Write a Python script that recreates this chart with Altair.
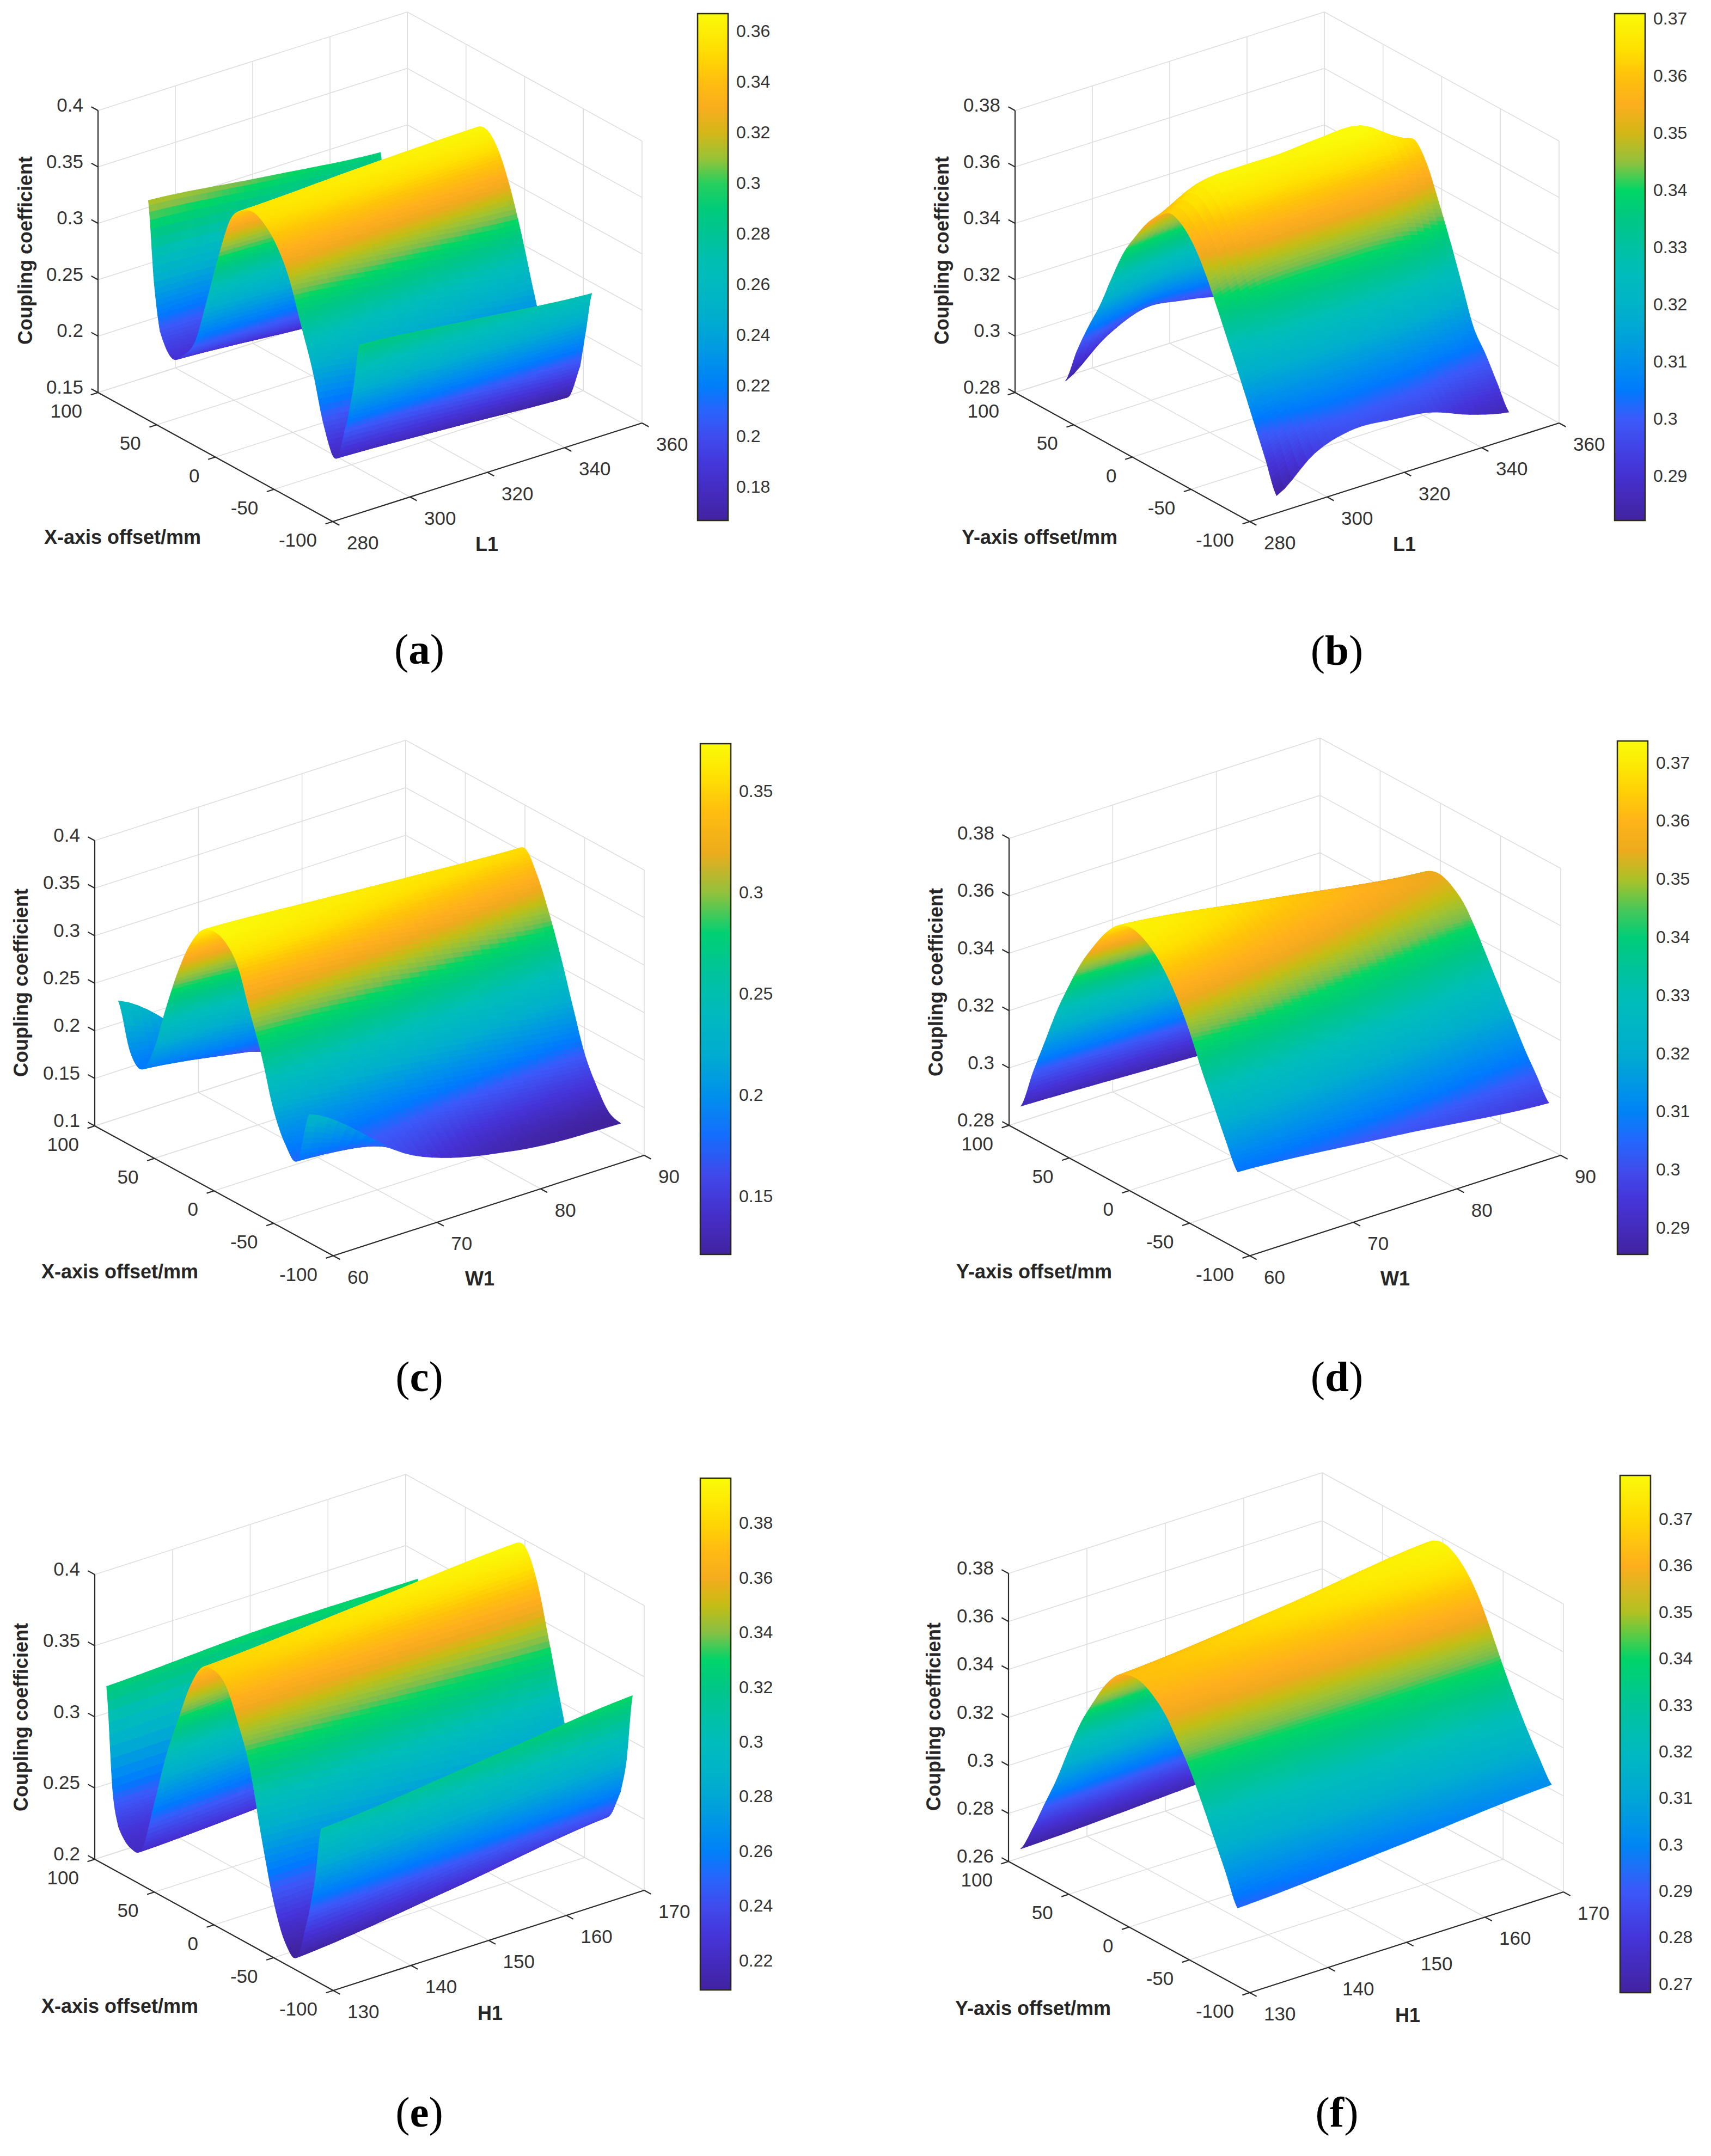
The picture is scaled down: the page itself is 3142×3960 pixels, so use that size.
import altair as alt

# ---------- values ----------
OFF_STEP10 = [90, 80, 70, 60, 50, 40, 30, 20, 10, 0, -10, -20, -30, -40, -50, -60, -70, -80, -90]
OFF_FINE = [90, 85, 80, 70, 60, 50, 40, 30, 20, 10, 0, -10, -20, -30, -40, -50, -60, -70, -80, -85, -90]
OFF_C = [80, 70, 60, 50, 40, 30, 20, 10, 0, -10, -20, -30, -40, -50, -60, -70, -80]

L_A = [290, 320, 350]
Z_A = [
    [.315, .245, .205, .187, .195, .213, .255, .300, .338, .352, .356, .350, .337, .315, .280, .245, .200, .178, .218, .250, .290],
    [.303, .240, .203, .180, .188, .207, .248, .296, .335, .356, .361, .352, .332, .302, .263, .226, .185, .173, .209, .242, .280],
    [.292, .235, .200, .172, .180, .200, .240, .290, .330, .358, .364, .352, .325, .288, .245, .205, .175, .167, .200, .235, .270],
]
L_B = [290, 300, 310, 320, 330, 340, 350]
Z_B = [
    [.282, .295, .306, .316, .328, .339, .347, .354, .359, .362, .360, .355, .347, .337, .3265, .316, .305, .294, .2826],
    [.293, .301, .310, .320, .331, .342, .352, .360, .366, .369, .367, .361, .352, .341, .330, .318, .308, .300, .2935],
    [.299, .305, .313, .323, .333, .344, .354, .362, .367, .370, .368, .362, .353, .342, .330, .319, .309, .302, .2975],
    [.2975, .304, .312, .322, .333, .344, .354, .362, .367, .370, .368, .362, .353, .342, .330, .318, .308, .301, .2965],
    [.2945, .302, .311, .321, .333, .344, .354, .362, .368, .371, .369, .362, .353, .342, .329, .317, .307, .300, .2947],
    [.289, .298, .308, .319, .331, .343, .353, .362, .368, .371, .369, .362, .352, .340, .327, .314, .304, .296, .2895],
    [.285, .294, .304, .315, .327, .339, .349, .356, .360, .362, .364, .358, .347, .335, .322, .309, .302, .294, .286],
]
W_C = [60, 70, 80, 90]
Z_C = [
    [.245, .198, .187, .215, .265, .310, .345, .367, .373, .368, .350, .310, .270, .220, .190, .180, .235],
    [.160, .172, .170, .198, .250, .300, .338, .360, .366, .360, .340, .300, .255, .205, .178, .165, .157],
    [.130, .140, .150, .178, .228, .280, .320, .350, .360, .348, .320, .280, .235, .188, .157, .135, .127],
    [.125, .130, .140, .165, .210, .260, .300, .340, .354, .333, .300, .260, .215, .172, .145, .125, .120],
]
W_D = [60, 75, 90]
Z_D = [
    [.289, .303, .316, .329, .340, .350, .358, .365, .370, .372, .371, .368, .363, .356, .347, .336, .326, .316, .307],
    [.287, .300, .312, .324, .335, .344, .352, .358, .362, .364, .362, .358, .353, .345, .337, .327, .318, .310, .302],
    [.285, .296, .308, .319, .329, .337, .344, .350, .354, .355, .353, .349, .342, .334, .326, .318, .310, .303, .296],
]
H_E = [130, 150, 170]
Z_E = [
    [.326, .257, .232, .222, .226, .262, .300, .330, .358, .376, .379, .373, .352, .325, .280, .240, .215, .210, .245, .272, .309],
    [.331, .258, .238, .228, .232, .268, .307, .340, .368, .384, .387, .374, .345, .312, .271, .243, .227, .223, .252, .279, .320],
    [.331, .260, .245, .235, .240, .275, .315, .350, .378, .392, .395, .375, .338, .298, .262, .248, .240, .238, .260, .285, .332],
]
H_F = [130, 150, 170]
Z_F = [
    [.268, .279, .292, .305, .320, .334, .345, .355, .362, .365, .365, .362, .357, .349, .340, .329, .317, .305, .2926],
    [.271, .284, .297, .311, .325, .339, .351, .361, .368, .372, .371, .366, .359, .350, .339, .328, .318, .308, .297],
    [.275, .288, .301, .315, .330, .345, .359, .370, .376, .378, .376, .371, .363, .352, .340, .329, .319, .310, .302],
]

OFFSET_TICKS = [100, 50, 0, -50, -100]
L_TICKS = [280, 300, 320, 340, 360]
W_TICKS = [60, 70, 80, 90]
H_TICKS = [130, 140, 150, 160, 170]
Z_TICKS_A = [0.15, 0.2, 0.25, 0.3, 0.35, 0.4]
Z_TICKS_B = [0.28, 0.3, 0.32, 0.34, 0.36, 0.38]
Z_TICKS_C = [0.1, 0.15, 0.2, 0.25, 0.3, 0.35, 0.4]
Z_TICKS_E = [0.2, 0.25, 0.3, 0.35, 0.4]
Z_TICKS_F = [0.26, 0.28, 0.3, 0.32, 0.34, 0.36, 0.38]

BAR_A = [0.18, 0.2, 0.22, 0.24, 0.26, 0.28, 0.3, 0.32, 0.34, 0.36]
BAR_B = [0.29, 0.3, 0.31, 0.32, 0.33, 0.34, 0.35, 0.36, 0.37]
BAR_C = [0.15, 0.2, 0.25, 0.3, 0.35]
BAR_E = [0.22, 0.24, 0.26, 0.28, 0.3, 0.32, 0.34, 0.36, 0.38]
BAR_F = [0.27, 0.28, 0.29, 0.3, 0.31, 0.32, 0.33, 0.34, 0.35, 0.36, 0.37]

CMAP_POS = [0, .10, .20, .25, .30, .40, .50, .60, .655, .685, .72, .75, .79, .83, .88, .93, 1]
CMAP_COL = ["#41239f", "#4632d7", "#3c5afa", "#0078ff", "#008cf0", "#00afcd", "#00beb9",
            "#00c882", "#00d764", "#78be50", "#a0c332", "#c3be14", "#f0aa1e", "#ffaf1e",
            "#ffc30a", "#ffe100", "#fafa0a"]

PW, PH = 1563, 1314
MARGIN = 8
INK = "#333333"
AX = "#2a2a2a"
GRID = "#dedede"
SANS = "Liberation Sans"
SERIF = "Liberation Serif"

PANELS = [
    dict(tag="a", col=0, row=0, off=OFF_FINE, par=L_A, z=Z_A, origin=(180, 721), tv=(431, 237), sv=(568, -181), zp=518,
         zt=Z_TICKS_A, pt=L_TICKS, bt=BAR_A, bar=(1281, 1337, 25, 956), dom=(.1669, .3671), xname="X-axis offset/mm", pname="L1",
         ylab=(48, 460), xlab=(225, 988), plab=(894, 1001), cap=(770, 1195)),
    dict(tag="b", col=1, row=0, off=OFF_STEP10, par=L_B, z=Z_B, origin=(1864, 721), tv=(431, 237), sv=(568, -181), zp=518,
         zt=Z_TICKS_B, pt=L_TICKS, bt=BAR_B, bar=(2965, 3021, 25, 956), dom=(.2823, .371), xname="Y-axis offset/mm", pname="L1",
         ylab=(1731, 460), xlab=(1909, 988), plab=(2579, 1001), cap=(2455, 1197)),
    dict(tag="c", col=0, row=1, off=OFF_C, par=W_C, z=Z_C, origin=(174, 2068), tv=(438, 238.5), sv=(571, -184.5), zp=524,
         zt=Z_TICKS_C, pt=W_TICKS, bt=BAR_C, bar=(1286, 1342, 1366, 2304), dom=(.1214, .3738), xname="X-axis offset/mm", pname="W1",
         ylab=(40, 1805), xlab=(220, 2337), plab=(881, 2350), cap=(770, 2531)),
    dict(tag="d", col=1, row=1, off=OFF_STEP10, par=W_D, z=Z_D, origin=(1853, 2067), tv=(442, 239.5), sv=(571, -184.5), zp=527,
         zt=Z_TICKS_B, pt=W_TICKS, bt=BAR_B, bar=(2970, 3026, 1361, 2304), dom=(.2855, .3738), xname="Y-axis offset/mm", pname="W1",
         ylab=(1720, 1804), xlab=(1899, 2337), plab=(2562, 2350), cap=(2455, 2531)),
    dict(tag="e", col=0, row=2, off=OFF_FINE, par=H_E, z=Z_E, origin=(174, 3415), tv=(438, 241), sv=(571, -184), zp=523,
         zt=Z_TICKS_E, pt=H_TICKS, bt=BAR_E, bar=(1286, 1342, 2715, 3655), dom=(.2094, .3966), xname="X-axis offset/mm", pname="H1",
         ylab=(40, 3154), xlab=(220, 3686), plab=(900, 3699), cap=(770, 3882)),
    dict(tag="f", col=1, row=2, off=OFF_STEP10, par=H_F, z=Z_F, origin=(1852, 3419), tv=(443, 241), sv=(576, -185), zp=529,
         zt=Z_TICKS_F, pt=H_TICKS, bt=BAR_F, bar=(2975, 3031, 2710, 3660), dom=(.2682, .3795), xname="Y-axis offset/mm", pname="H1",
         ylab=(1716, 3153), xlab=(1897, 3690), plab=(2585, 3703), cap=(2455, 3882)),
]

BOLD_W = dict(a=.5, b=.556, c=.444, d=.556, e=.444, f=.333)


def spline_row(vals, nsub):
    """Catmull-Rom rendering subdivision of one read-off row."""
    out = []
    n = len(vals)
    for i in range(n - 1):
        p0, p1, p2, p3 = vals[max(i - 1, 0)], vals[i], vals[i + 1], vals[min(i + 2, n - 1)]
        for k in range(nsub):
            u = k / nsub
            out.append(0.5 * (2 * p1 + (p2 - p0) * u + (2 * p0 - 5 * p1 + 4 * p2 - p3) * u * u
                              + (3 * p1 - p0 - 3 * p2 + p3) * u ** 3))
    out.append(vals[-1])
    return out


def linear_row(vals, nsub):
    out = []
    for i in range(len(vals) - 1):
        for k in range(nsub):
            out.append(vals[i] + (vals[i + 1] - vals[i]) * k / nsub)
    out.append(vals[-1])
    return out


def edge_colour(frac):
    frac = min(max(frac, 0), 1)
    for i in range(len(CMAP_POS) - 1):
        if frac <= CMAP_POS[i + 1]:
            u = (frac - CMAP_POS[i]) / (CMAP_POS[i + 1] - CMAP_POS[i])
            a, b = CMAP_COL[i], CMAP_COL[i + 1]
            return "#" + "".join(
                f"{round(int(a[k:k + 2], 16) * (1 - u) + int(b[k:k + 2], 16) * u):02x}" for k in (1, 3, 5))
    return CMAP_COL[-1]


def panel_chart(p):
    ox = MARGIN + p["col"] * PW
    oy = MARGIN + p["row"] * PH
    zt, pt = p["zt"], p["pt"]
    z0, z1 = zt[0], zt[-1]
    p0, p1 = pt[0], pt[-1]
    lo, hi = p["dom"]

    def proj(offset, par, zv):
        t = (100 - offset) / 200
        s = (par - p0) / (p1 - p0)
        w = (zv - z0) / (z1 - z0)
        return (p["origin"][0] + t * p["tv"][0] + s * p["sv"][0] - ox,
                p["origin"][1] + t * p["tv"][1] + s * p["sv"][1] - w * p["zp"] - oy)

    def seg(a, b):
        xa, ya = proj(*a)
        xb, yb = proj(*b)
        return dict(x=xa, y=ya, x2=xb, y2=yb)

    # grid
    grid = []
    for zv in zt:
        grid.append(seg((100, p0, zv), (100, p1, zv)))
        grid.append(seg((100, p1, zv), (-100, p1, zv)))
    for v in pt:
        grid.append(seg((100, v, z0), (100, v, z1)))
        grid.append(seg((100, v, z0), (-100, v, z0)))
    for v in OFFSET_TICKS:
        grid.append(seg((v, p1, z0), (v, p1, z1)))
        grid.append(seg((v, p0, z0), (v, p1, z0)))

    # axes and ticks
    axes = [seg((100, p0, z0), (100, p0, z1)), seg((100, p0, z0), (-100, p0, z0)), seg((-100, p0, z0), (-100, p1, z0))]
    k_t, k_s = 14 / 490, 14 / 596
    dtx, dty = p["tv"][0] * k_t, p["tv"][1] * k_t
    dsx, dsy = p["sv"][0] * k_s, p["sv"][1] * k_s
    for zv in zt:
        x, y = proj(100, p0, zv)
        axes.append(dict(x=x, y=y, x2=x - dtx, y2=y - dty))
    for v in OFFSET_TICKS:
        x, y = proj(v, p0, z0)
        axes.append(dict(x=x, y=y, x2=x - dsx, y2=y - dsy))
    for v in pt:
        x, y = proj(-100, v, z0)
        axes.append(dict(x=x, y=y, x2=x + dtx, y2=y + dty))

    # surface
    off_fine = linear_row(p["off"], 10)
    rows = [spline_row(r, 10) for r in p["z"]]
    nsub_par = max(1, round(32 / (len(p["par"]) - 1)))
    par_fine = linear_row(p["par"], nsub_par)
    cols = [spline_row([rows[i][j] for i in range(len(rows))], nsub_par) for j in range(len(off_fine))]
    feats = []
    for i in range(len(par_fine) - 2, -1, -1):
        for j in range(len(off_fine) - 1):
            corners = [(j, i), (j + 1, i), (j + 1, i + 1), (j, i + 1)]
            ring = []
            val = 0
            for (c, r) in corners:
                zv = cols[c][r]
                val += zv / 4
                x, y = proj(off_fine[c], par_fine[r], zv)
                ring.append([round(x, 1), round(y, 1)])
            ring.append(ring[0])
            feats.append(dict(type="Feature", geometry=dict(type="Polygon", coordinates=[ring]),
                              properties=dict(v=round(val, 4), c=edge_colour((val - lo) / (hi - lo)))))

    dom = [lo + f * (hi - lo) for f in CMAP_POS]
    cscale = alt.Scale(domain=dom, range=CMAP_COL, interpolate="rgb")
    bl, br, bt, bb = p["bar"]
    legend = alt.Legend(title=None, type="gradient", orient="none", legendX=bl - ox, legendY=bt - oy, direction="vertical",
                        gradientLength=bb - bt, gradientThickness=br - bl, gradientStrokeColor="#2a2a10",
                        gradientStrokeWidth=2.5, values=p["bt"], labelFont=SANS, labelFontSize=32,
                        labelColor=INK, labelOffset=15, labelOverlap=False, format=".2~f")
    surface = (alt.Chart(alt.Data(values=feats)).mark_geoshape(strokeWidth=1.2)
               .encode(color=alt.Color("properties.v:Q", scale=cscale, legend=legend),
                       stroke=alt.Stroke("properties.c:N", scale=None))
               .project(type="identity", scale=1, translate=[0, 0]))

    X = alt.X("x:Q", scale=alt.Scale(domain=[0, PW], nice=False, zero=False), axis=None)
    Y = alt.Y("y:Q", scale=alt.Scale(domain=[PH, 0], nice=False, zero=False), axis=None)

    def rules(data, color, width):
        return alt.Chart(alt.Data(values=data)).mark_rule(color=color, strokeWidth=width).encode(
            x=X, y=Y, x2="x2:Q", y2="y2:Q")

    def texts(data, size, align="center", weight="normal", angle=0, font=SANS, color=INK):
        return alt.Chart(alt.Data(values=data)).mark_text(
            fontSize=size, align=align, baseline="middle", fontWeight=weight, angle=angle, font=font, color=color
        ).encode(x=X, y=Y, text="t:N")

    def lab(base, dx, dy, txt):
        return dict(x=base[0] + dx, y=base[1] + dy, t=txt)

    z_labels = [lab(proj(100, p0, v), -27, -9, f"{v:g}") for v in zt]
    o_labels = [lab(proj(v, p0, z0), -29, 35, f"{v:g}") for v in OFFSET_TICKS]
    p_labels = [lab(proj(-100, v, z0), 26, 40, f"{v:g}") for v in pt]

    bar_ticks = []
    for v in p["bt"]:
        y = bt + (hi - v) / (hi - lo) * (bb - bt) - oy
        bar_ticks.append(dict(x=br - ox - 8, y=y, x2=br - ox, y2=y))

    cx, cy = p["cap"]
    fs = 79
    w_b = BOLD_W[p["tag"]] * fs
    w_p = .333 * fs
    x_l = cx - (w_p * 2 + w_b) / 2 - ox
    y_c = cy - oy
    cap_reg = [dict(x=x_l, y=y_c, t="("), dict(x=x_l + w_p + w_b, y=y_c, t=")")]
    cap_bold = [dict(x=x_l + w_p, y=y_c, t=p["tag"])]

    layers = [
        rules(grid, GRID, 1.6),
        rules(axes, AX, 2.2),
        surface,
        rules(bar_ticks, AX, 2.5),
        texts(z_labels, 35, align="right"),
        texts(o_labels, 35, align="right"),
        texts(p_labels, 35, align="left"),
        texts([dict(x=p["ylab"][0] - ox, y=p["ylab"][1] - oy, t="Coupling coefficient")], 36, weight="bold", angle=270, color="#262626"),
        texts([dict(x=p["xlab"][0] - ox, y=p["xlab"][1] - oy, t=p["xname"])], 36, weight="bold", color="#262626"),
        texts([dict(x=p["plab"][0] - ox, y=p["plab"][1] - oy, t=p["pname"])], 36, weight="bold", color="#262626"),
        texts(cap_reg, fs, align="left", font=SERIF, color="#000000"),
        texts(cap_bold, fs, align="left", weight="bold", font=SERIF, color="#000000"),
    ]
    return alt.layer(*layers).properties(width=PW, height=PH).resolve_scale(color="independent")


chart = (alt.concat(*[panel_chart(p) for p in PANELS], columns=2, spacing=0)
         .resolve_scale(color="independent")
         .properties(padding=0, background="white")
         .configure_view(stroke=None)
         .configure_concat(spacing=0))

chart.save("out.html", embed_options={"renderer": "svg", "actions": False})
